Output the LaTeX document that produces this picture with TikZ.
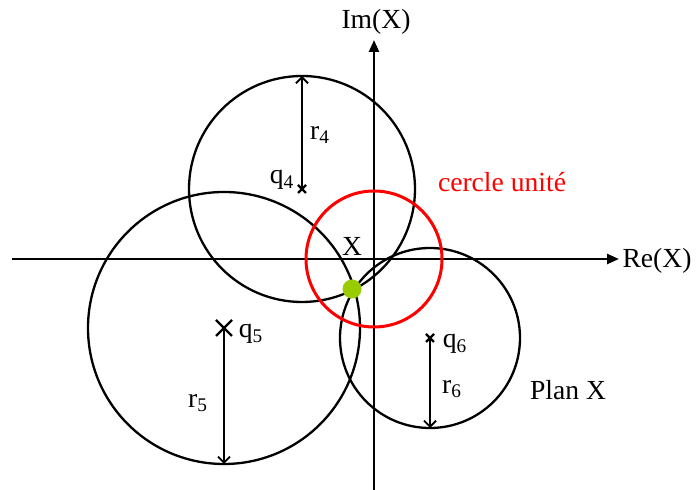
\documentclass[tikz,border=0pt]{standalone}
\usepackage{fontspec}
\setmainfont{Liberation Serif}
\usetikzlibrary{arrows.meta,calc}
\definecolor{unite}{HTML}{FF0000}
\definecolor{pointx}{HTML}{99CC00}

\begin{document}
\begin{tikzpicture}[x=0.5pt,y=-0.5pt,
  axe/.style={line width=1.2pt,-{Triangle[length=6pt,width=5pt]}},
  cercle/.style={line width=1.15pt},
  rayon/.style={line width=0.9pt,-{Straight Barb[length=3pt,width=6pt]}},
  croix/.style={line width=1.2pt},
  lbl/.style={font=\fontsize{13.8pt}{15pt}\selectfont,inner sep=0pt}]
  \useasboundingbox (0,0) rectangle (696,490);

  % Axes
  \coordinate (o) at (374,259);
  \coordinate (xa) at (12,259);
  \coordinate (xb) at (619,259);
  \coordinate (ya) at (374,490);
  \coordinate (yb) at (374,40);
  \draw[axe] (xa) -- (xb);
  \draw[axe] (ya) -- (yb);
  \node[lbl] (im) at (376,22) {Im(X)};
  \node[lbl] (re) at (657,261) {Re(X)};

  % Cercles q4, q5, q6
  \coordinate (q4) at (302,189);
  \coordinate (q5) at (224,328);
  \coordinate (q6) at (430,338);
  \draw[cercle] (q4) circle[radius=113];
  \draw[cercle] (q5) circle[radius=136];
  \draw[cercle] (q6) circle[radius=90];

  % Cercle unite
  \draw[unite,line width=1.5pt] (o) circle[radius=68];
  \node[lbl,unite] (cu) at (502,182) {cercle unité};

  % Rayons
  \coordinate (t4) at (302,76);
  \coordinate (b5) at (224,464);
  \coordinate (b6) at (430,428);
  \draw[rayon] (q4) -- (t4);
  \draw[rayon] (q5) -- (b5);
  \draw[rayon] (q6) -- (b6);
  \draw[croix] ($(q4)+(-4,-4)$) -- ++(8,8) ($(q4)+(-4,4)$) -- ++(8,-8);
  \draw[croix] ($(q5)+(-8,-8)$) -- ++(16,16) ($(q5)+(-8,8)$) -- ++(16,-16);
  \draw[croix] ($(q6)+(-4,-4)$) -- ++(8,8) ($(q6)+(-4,4)$) -- ++(8,-8);
  \node[lbl] (lq4) at (282,180) {q\textsubscript{4}};
  \node[lbl] (lr4) at (320,135) {r\textsubscript{4}};
  \node[lbl] (lq5) at (251,334) {q\textsubscript{5}};
  \node[lbl] (lr5) at (198,403) {r\textsubscript{5}};
  \node[lbl] (lq6) at (455,344) {q\textsubscript{6}};
  \node[lbl] (lr6) at (452,389) {r\textsubscript{6}};

  % Point X
  \fill[pointx] (352,289) circle[radius=9.5];
  \node[lbl] (lx) at (352,246) {X};
  \node[lbl] (plan) at (568,390) {Plan X};
\end{tikzpicture}
\end{document}
